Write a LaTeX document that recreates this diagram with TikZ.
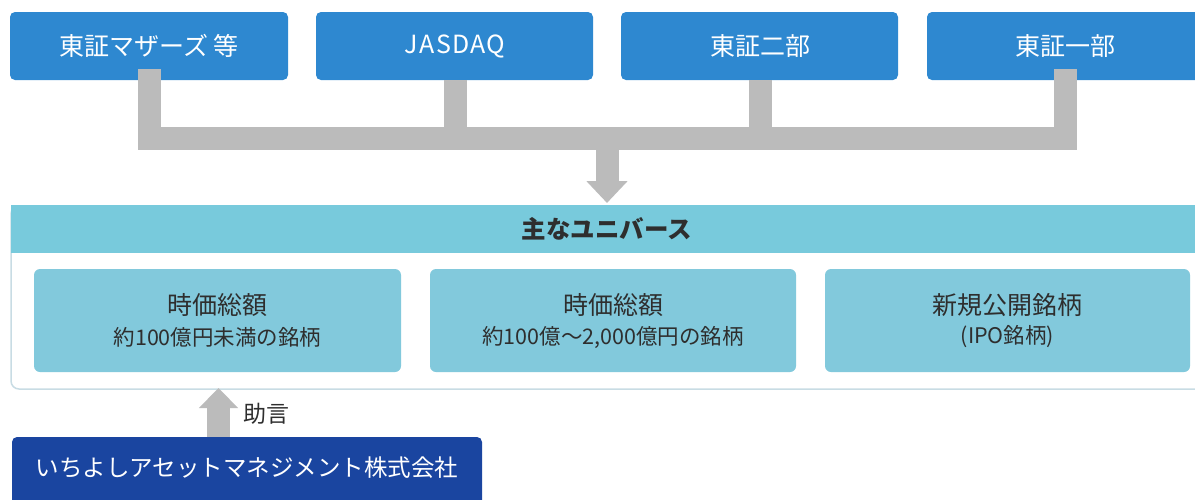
\documentclass[tikz,border=0pt]{standalone}
\usepackage{fontspec}
\setmainfont{Noto Sans CJK JP}
\usetikzlibrary{arrows.meta}
\definecolor{topblue}{HTML}{2E88D0}
\definecolor{conngray}{HTML}{BBBBBB}
\definecolor{headteal}{HTML}{78CADC}
\definecolor{innerteal}{HTML}{82C9DC}
\definecolor{outerline}{HTML}{C8DCE4}
\definecolor{darkblue}{HTML}{1A45A0}
\definecolor{txt}{HTML}{2E2E2E}
\begin{document}
\begin{tikzpicture}[x=1pt,y=-1pt,
  market/.style={fill=topblue,rounded corners=5pt},
  mlabel/.style={text=white,font=\fontsize{25}{29}\selectfont},
  cellbox/.style={fill=innerteal,rounded corners=6pt},
  ctitle/.style={text=txt,font=\fontsize{25}{29}\selectfont},
  csub/.style={text=txt,font=\fontsize{21.5}{25}\selectfont},
  conn/.style={draw=conngray,line width=23pt},
  bigarrow/.style={draw=conngray,line width=23pt,-{Triangle[width=40pt,length=22pt]}}
]
\useasboundingbox (0,0) rectangle (1195,499);
% top market boxes
\path[market] (10,12) rectangle (288,80);
\path[market] (316,12) rectangle (593,80);
\path[market] (621,12) rectangle (898,80);
\path[market] (927,12) rectangle (1205,80);
\node[mlabel] (m1) at (149,46) {東証マザーズ 等};
\node[mlabel,font=\fontsize{25}{29}\selectfont\addfontfeatures{LetterSpace=5}] (m2) at (455,46) {JASDAQ};
\node[mlabel] (m3) at (760,46) {東証二部};
\node[mlabel] (m4) at (1065,46) {東証一部};
\coordinate (b1) at (149.5,80);
\coordinate (b2) at (455,80);
\coordinate (b3) at (760.5,80);
\coordinate (b4) at (1065.5,80);
\coordinate (j1) at (149.5,138.5);
\coordinate (j2) at (455,138.5);
\coordinate (j3) at (760.5,138.5);
\coordinate (j4) at (1065.5,138.5);
\draw[conn,line cap=rect] (b1) -- (j1) -- (j4) -- (b4);
\draw[conn] (b2) -- (j2);
\draw[conn] (b3) -- (j3);
\coordinate (dtop) at (607,138.5);
\coordinate (dtip) at (607,203);
\draw[bigarrow] (dtop) -- (dtip);
% universe outer box
\draw[outerline,line width=1.5pt,rounded corners=8pt,fill=white] (11,206) rectangle (1215,389);
\path[fill=headteal] (11,205) rectangle (1215,253);
\node[text=txt,font=\fontsize{24.5}{29}\selectfont\bfseries] (hdr) at (607,229) {主なユニバース};
% inner boxes
\path[cellbox] (34,269) rectangle (401,372);
\path[cellbox] (430,269) rectangle (796,372);
\path[cellbox] (825,269) rectangle (1190,372);
\node[ctitle] (c1) at (217.5,305) {時価総額};
\node[csub] (s1) at (217.5,337) {約100億円未満の銘柄};
\node[ctitle] (c2) at (613,305) {時価総額};
\node[csub] (s2) at (613,337) {約100億～2,000億円の銘柄};
\node[ctitle] (c3) at (1007.5,305) {新規公開銘柄};
\node[csub] (s3) at (1007.5,337) {(IPO銘柄)};
% bottom company box
\path[fill=darkblue,rounded corners=5pt] (12,437) rectangle (482,510);
\node[text=white,font=\fontsize{23.5}{27}\selectfont] (co) at (247,468) {いちよしアセットマネジメント株式会社};
\coordinate (ubot) at (218.5,437);
\coordinate (utip) at (218.5,388);
\draw[bigarrow,-{Triangle[width=38pt,length=20pt]}] (ubot) -- (utip);
\node[text=txt,font=\fontsize{23}{27}\selectfont,anchor=west] (adv) at (240,414) {助言};
\end{tikzpicture}
\end{document}
